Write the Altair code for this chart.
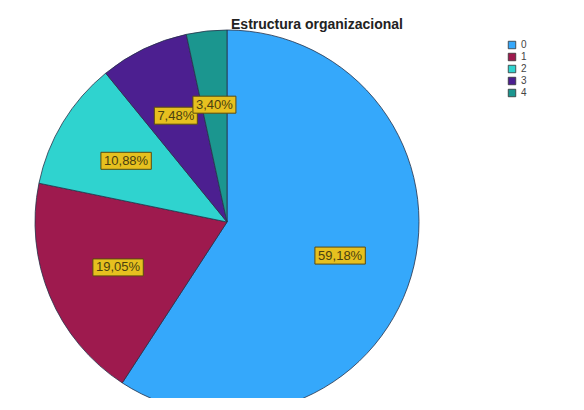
import altair as alt
import pandas as pd

# ---- data ----
categories = ["0", "1", "2", "3", "4"]
percents = [59.18, 19.05, 10.88, 7.48, 3.40]
colors = ["#35a8fb", "#9e1a4e", "#2fd3cf", "#4c1f90", "#1b968f"]
title_text = "Estructura organizacional"

labels = [f"{p:.2f}%".replace(".", ",") for p in percents]
df = pd.DataFrame({"cat": categories, "pct": percents, "label": labels,
                   "order": list(range(len(categories)))})

W, H = 438, 352
CX, CY = W / 2, H / 2
R = 192      # pie radius
RL = 118     # label radius
FONT = "Liberation Sans"

base = alt.Chart(df)

pie = base.mark_arc(outerRadius=R, stroke="#26324a", strokeWidth=0.8).encode(
    theta=alt.Theta("pct:Q", stack=True),
    color=alt.Color("cat:N", scale=alt.Scale(domain=categories, range=colors),
                    legend=alt.Legend(title=None, orient="none", legendX=499, legendY=-6,
                                      symbolType="square", symbolSize=56,
                                      symbolStrokeColor="#333333", symbolStrokeWidth=0.8,
                                      labelFontSize=10, labelFont=FONT, labelColor="#444444",
                                      labelOffset=4, rowPadding=0, padding=0)),
    order=alt.Order("order:Q"),
)

lab = base.transform_joinaggregate(total="sum(pct)").transform_window(
    cum="sum(pct)", sort=[alt.SortField("order")], frame=[None, 0]
).transform_calculate(
    mid="(datum.cum - datum.pct/2) / datum.total * 2 * PI",
    lx=f"{CX} + {RL} * sin(datum.mid)",
    ly=f"{CY} - {RL} * cos(datum.mid)",
    bw="7.4 * length(datum.label) + 6",
    bx1="datum.lx - datum.bw/2",
    bx2="datum.lx + datum.bw/2",
    by1="datum.ly - 8.5",
    by2="datum.ly + 8.5",
)

boxes = lab.mark_rect(fill="#e6c01f", stroke="#5a4a10", strokeWidth=1).encode(
    x=alt.X("bx1:Q", scale=None, axis=None),
    x2="bx2:Q",
    y=alt.Y("by1:Q", scale=None, axis=None),
    y2="by2:Q",
)

texts = lab.mark_text(font=FONT, fontSize=13, color="#4a3f10").encode(
    x=alt.X("lx:Q", scale=None, axis=None),
    y=alt.Y("ly:Q", scale=None, axis=None),
    text="label:N",
)

chart = alt.layer(pie, boxes, texts).properties(
    width=W, height=H,
    autosize=alt.AutoSizeParams(type="none"),
    padding={"left": 0, "top": 38, "right": 130, "bottom": 0},
    title=alt.Title(title_text, fontSize=14, font=FONT, fontWeight="bold",
                    dx=90, offset=-4, color="#222222"),
).configure_view(stroke=None)

chart.save("out.html", embed_options={"renderer": "svg", "actions": False})
